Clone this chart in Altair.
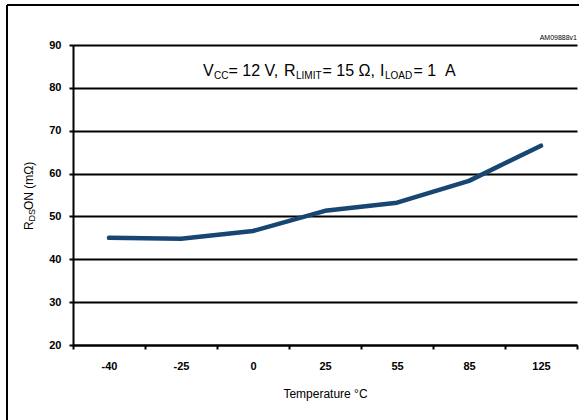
import altair as alt
import pandas as pd

# Temperature categories (°C) and on-state resistance (mΩ)
temps = ["-40", "-25", "0", "25", "55", "85", "125"]
rdson = [45.0, 44.8, 46.6, 51.3, 53.2, 58.3, 66.5]
y_ticks = [20, 30, 40, 50, 60, 70, 80, 90]

df = pd.DataFrame({"temp": temps, "rdson": rdson})

W, H = 504, 300
FONT = "Liberation Sans"
LINE_COLOR = "#174672"

x_enc = alt.X(
    "temp:N",
    sort=temps,
    bandPosition=0.5,
    scale=alt.Scale(type="band", paddingInner=0, paddingOuter=0),
    axis=alt.Axis(
        title="Temperature °C",
        titleFont=FONT, titleFontSize=12, titleFontWeight="normal",
        titleColor="black", titlePadding=17,
        labelFont=FONT, labelFontSize=11, labelFontWeight="bold",
        labelColor="black", labelPadding=11, labelAngle=0,
        tickBand="extent", tickColor="black", tickWidth=2, tickSize=4,
        domainColor="black", domainWidth=2, grid=False,
    ),
)
y_enc = alt.Y(
    "rdson:Q",
    scale=alt.Scale(domain=[20, 90], nice=False, zero=False),
    axis=alt.Axis(
        title=None, values=y_ticks,
        labelFont=FONT, labelFontSize=11, labelFontWeight="bold",
        labelColor="black", labelPadding=8,
        tickColor="black", tickWidth=2, tickSize=4,
        domainColor="black", domainWidth=2,
        grid=True, gridColor="black", gridWidth=2,
    ),
)

line = alt.Chart(df).mark_line(
    color=LINE_COLOR, strokeWidth=4.5, strokeCap="round", strokeJoin="round"
).encode(x=x_enc, y=y_enc)


def txt(s, x, y, size, angle=0, weight="normal", align="left"):
    return alt.Chart(pd.DataFrame({"t": [s]})).mark_text(
        font=FONT, fontSize=size, fontWeight=weight, color="black",
        align=align, baseline="alphabetic", angle=angle,
    ).encode(text="t:N", x=alt.value(x), y=alt.value(y))


# Condition annotation with subscripts
ox, oy = 73, 45
MAIN, SUB = 16, 10
BL, SBL = 76 - oy, 78.5 - oy
cond = [
    txt("V", 203 - ox, BL, MAIN),
    txt("CC", 214 - ox, SBL, SUB),
    txt("= 12 V,", 228.5 - ox, BL, MAIN),
    txt("R", 284 - ox, BL, MAIN),
    txt("LIMIT", 296 - ox, SBL, SUB),
    txt("= 15 Ω,", 322.5 - ox, BL, MAIN),
    txt("I", 380 - ox, BL, MAIN),
    txt("LOAD", 385 - ox, SBL, SUB),
    txt("= 1", 413.5 - ox, BL, MAIN),
    txt("A", 445 - ox, BL, MAIN),
]

# Rotated y-axis title: R_DS ON (mΩ)
ytitle = [
    txt("R", 33 - ox, 230 - oy, 12, angle=270),
    txt("DS", 35 - ox, 221.5 - oy, 9, angle=270),
    txt("ON (mΩ)", 33 - ox, 210 - oy, 12, angle=270),
]

code = txt("AM09888v1", 577 - ox, 40 - oy, 7, align="right")

# Outer frame (left and top edges)
frame_left = alt.Chart().mark_rule(color="black", strokeWidth=2).encode(
    x=alt.value(7 - ox), y=alt.value(5 - oy), y2=alt.value(420 - oy)
)
frame_top = alt.Chart().mark_rule(color="black", strokeWidth=2).encode(
    x=alt.value(7 - ox), x2=alt.value(579 - ox), y=alt.value(5 - oy)
)

chart = alt.layer(
    line, *cond, *ytitle, code, frame_left, frame_top
).properties(
    width=W, height=H,
    autosize=alt.AutoSizeParams(type="none"),
    padding={"left": ox, "top": oy, "right": 2, "bottom": 75},
    background="white",
).configure_view(stroke=None)

chart.save("out.html", embed_options={"renderer": "svg", "actions": False})
